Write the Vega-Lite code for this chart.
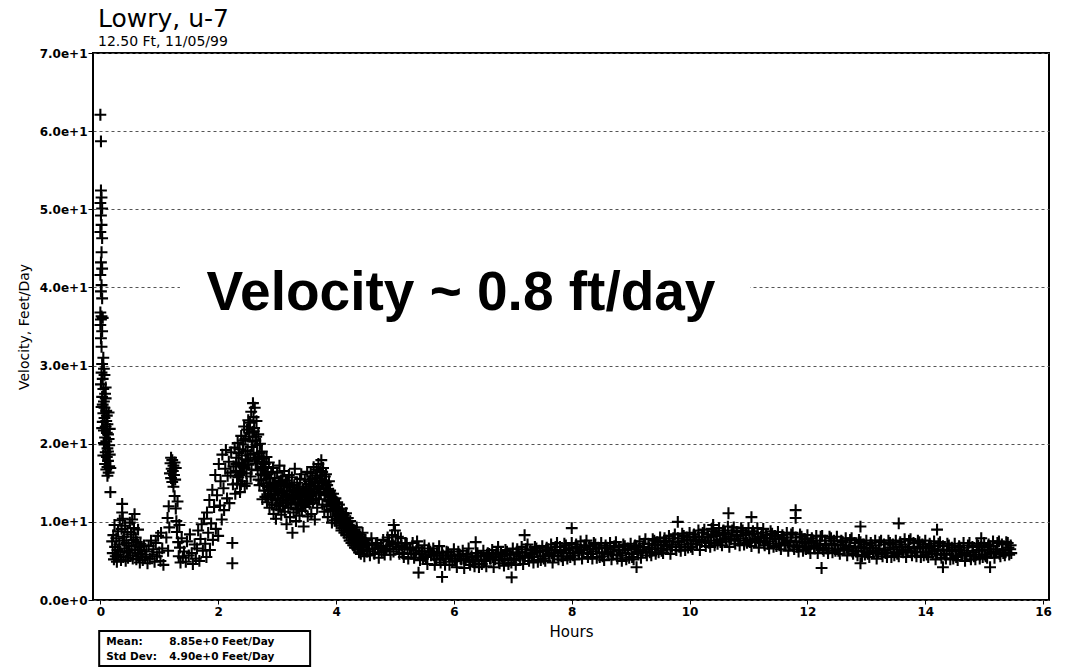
{
"$schema": "https://vega.github.io/schema/vega-lite/v6.json",
"width": 956, "height": 547,
"autosize": "none",
"padding": {"left": 93, "top": 53, "right": 18, "bottom": 67},
"background": "white",
"config": {
  "view": {"stroke": "black", "strokeWidth": 2},
  "axis": {"labelColor": "black", "tickColor": "black", "titleColor": "black", "domain": false}
},
"title": {"text": "Lowry, u-7", "subtitle": "12.50 Ft, 11/05/99", "anchor": "start", "frame": "group", "font": "DejaVu Sans", "fontSize": 25, "fontWeight": "normal", "color": "black", "subtitleFont": "DejaVu Sans", "subtitleFontSize": 14, "subtitleColor": "black", "subtitlePadding": 3, "offset": -2, "dx": 5},
"layer": [
  {
    "data": {"values": [{"note": "mask"}]},
    "mark": {"type": "rect", "fill": "white"},
    "encoding": {
      "x": {"datum": 1.35, "type": "quantitative"}, "x2": {"datum": 11.03},
      "y": {"datum": 38.6, "type": "quantitative"}, "y2": {"datum": 41.4}
    }
  },
  {
    "data": {"values": [
{"hours":0.00,"velocity":62.1},{"hours":0.01,"velocity":58.7},{"hours":0.01,"velocity":52.4},{"hours":0.02,"velocity":51.5},{"hours":0.00,"velocity":50.8},{"hours":0.03,"velocity":50.1},{"hours":0.01,"velocity":49.2},{"hours":0.02,"velocity":48.0},{"hours":0.00,"velocity":47.1},{"hours":0.03,"velocity":46.3},{"hours":0.02,"velocity":44.5},{"hours":0.01,"velocity":43.2},{"hours":0.03,"velocity":42.4},{"hours":0.00,"velocity":41.6},{"hours":0.02,"velocity":40.3},{"hours":0.01,"velocity":39.5},{"hours":0.03,"velocity":38.6},{"hours":0.00,"velocity":36.8},{"hours":0.02,"velocity":36.3},{"hours":0.01,"velocity":35.9},{"hours":0.04,"velocity":36.1},{"hours":0.00,"velocity":35.2},{"hours":0.03,"velocity":34.4},{"hours":0.01,"velocity":33.5},{"hours":0.02,"velocity":32.4},{"hours":0.05,"velocity":31.0},{"hours":0.03,"velocity":30.2},{"hours":0.06,"velocity":29.6},{"hours":0.02,"velocity":29.1},{"hours":0.04,"velocity":28.3},{"hours":0.07,"velocity":28.8},{"hours":0.01,"velocity":27.6},{"hours":0.05,"velocity":27.0},{"hours":0.08,"velocity":26.4},{"hours":0.03,"velocity":26.0},{"hours":0.06,"velocity":25.4},{"hours":0.09,"velocity":25.8},{"hours":0.02,"velocity":24.7},{"hours":0.10,"velocity":24.2},{"hours":0.05,"velocity":23.9},{"hours":0.07,"velocity":23.3},{"hours":0.11,"velocity":23.6},{"hours":0.04,"velocity":22.8},{"hours":0.09,"velocity":22.2},{"hours":0.12,"velocity":22.5},{"hours":0.06,"velocity":21.7},{"hours":0.13,"velocity":21.2},{"hours":0.08,"velocity":20.8},{"hours":0.10,"velocity":20.3},{"hours":0.14,"velocity":20.6},{"hours":0.07,"velocity":19.9},{"hours":0.12,"velocity":19.4},{"hours":0.15,"velocity":19.8},{"hours":0.09,"velocity":18.9},{"hours":0.11,"velocity":18.3},{"hours":0.16,"velocity":18.6},{"hours":0.13,"velocity":17.8},{"hours":0.08,"velocity":17.4},{"hours":0.15,"velocity":17.1},{"hours":0.10,"velocity":16.7},{"hours":0.14,"velocity":16.3},{"hours":0.12,"velocity":15.9},{"hours":0.17,"velocity":16.9},{"hours":0.06,"velocity":20.1},{"hours":0.03,"velocity":22.0},{"hours":0.05,"velocity":18.5},{"hours":0.11,"velocity":21.4},{"hours":0.14,"velocity":24.0},{"hours":0.09,"velocity":27.2},{"hours":0.13,"velocity":19.0},{"hours":0.17,"velocity":13.8},{"hours":0.16,"velocity":21.9},{"hours":0.04,"velocity":25.0},{"hours":0.07,"velocity":24.6},{"hours":0.10,"velocity":22.9},{"hours":0.12,"velocity":17.0},
{"hours":0.20,"velocity":7.5},{"hours":0.21,"velocity":6.0},{"hours":0.22,"velocity":8.3},{"hours":0.23,"velocity":5.2},{"hours":0.24,"velocity":9.6},{"hours":0.25,"velocity":6.8},{"hours":0.26,"velocity":5.6},{"hours":0.27,"velocity":7.9},{"hours":0.28,"velocity":4.9},{"hours":0.29,"velocity":6.4},{"hours":0.30,"velocity":8.8},{"hours":0.31,"velocity":5.8},{"hours":0.32,"velocity":7.1},{"hours":0.33,"velocity":10.2},{"hours":0.34,"velocity":6.2},{"hours":0.35,"velocity":5.1},{"hours":0.36,"velocity":9.1},{"hours":0.37,"velocity":12.3},{"hours":0.37,"velocity":11.2},{"hours":0.38,"velocity":7.6},{"hours":0.38,"velocity":10.4},{"hours":0.39,"velocity":5.5},{"hours":0.40,"velocity":8.1},{"hours":0.41,"velocity":6.6},{"hours":0.42,"velocity":9.5},{"hours":0.43,"velocity":5.0},{"hours":0.44,"velocity":7.3},{"hours":0.45,"velocity":6.1},{"hours":0.46,"velocity":8.7},{"hours":0.47,"velocity":5.4},{"hours":0.48,"velocity":7.0},{"hours":0.49,"velocity":6.3},{"hours":0.50,"velocity":9.9},{"hours":0.51,"velocity":5.7},{"hours":0.52,"velocity":8.4},{"hours":0.53,"velocity":6.9},{"hours":0.54,"velocity":10.3},{"hours":0.55,"velocity":5.3},{"hours":0.56,"velocity":7.7},{"hours":0.57,"velocity":9.2},{"hours":0.58,"velocity":11.0},{"hours":0.59,"velocity":6.5},{"hours":0.60,"velocity":8.0},{"hours":0.61,"velocity":5.2},{"hours":0.62,"velocity":7.4},{"hours":0.63,"velocity":6.0},{"hours":0.64,"velocity":9.0},{"hours":0.65,"velocity":5.6},{"hours":0.66,"velocity":6.8},{"hours":0.67,"velocity":4.8},{"hours":0.68,"velocity":7.2},{"hours":0.69,"velocity":5.9},{"hours":0.70,"velocity":6.4},{"hours":0.72,"velocity":5.1},{"hours":0.74,"velocity":7.0},{"hours":0.76,"velocity":5.5},{"hours":0.78,"velocity":6.2},{"hours":0.80,"velocity":4.7},{"hours":0.82,"velocity":6.9},{"hours":0.84,"velocity":5.3},{"hours":0.86,"velocity":7.6},{"hours":0.88,"velocity":5.8},{"hours":0.90,"velocity":6.5},{"hours":0.92,"velocity":4.9},{"hours":0.94,"velocity":7.3},{"hours":0.96,"velocity":5.6},{"hours":0.98,"velocity":8.2},{"hours":1.00,"velocity":6.1},{"hours":1.02,"velocity":5.0},{"hours":1.03,"velocity":8.6},{"hours":1.05,"velocity":6.6},{"hours":1.07,"velocity":4.5},
{"hours":1.12,"velocity":8.0},{"hours":1.14,"velocity":10.5},{"hours":1.15,"velocity":6.3},{"hours":1.16,"velocity":12.0},{"hours":1.17,"velocity":9.3},{"hours":1.18,"velocity":16.2},{"hours":1.19,"velocity":17.5},{"hours":1.20,"velocity":15.6},{"hours":1.20,"velocity":18.2},{"hours":1.21,"velocity":16.8},{"hours":1.22,"velocity":17.9},{"hours":1.22,"velocity":15.1},{"hours":1.23,"velocity":16.5},{"hours":1.24,"velocity":17.2},{"hours":1.24,"velocity":14.5},{"hours":1.25,"velocity":16.0},{"hours":1.26,"velocity":17.6},{"hours":1.26,"velocity":13.3},{"hours":1.27,"velocity":15.4},{"hours":1.28,"velocity":16.9},{"hours":1.28,"velocity":11.7},{"hours":1.29,"velocity":10.1},{"hours":1.30,"velocity":8.7},{"hours":1.31,"velocity":12.6},{"hours":1.32,"velocity":7.4},{"hours":1.33,"velocity":5.6},{"hours":1.34,"velocity":9.6},{"hours":1.35,"velocity":6.7},{"hours":1.36,"velocity":4.8},{"hours":1.38,"velocity":7.9},{"hours":1.40,"velocity":5.4},
{"hours":1.42,"velocity":6.2},{"hours":1.45,"velocity":4.9},{"hours":1.47,"velocity":7.5},{"hours":1.50,"velocity":5.7},{"hours":1.52,"velocity":8.4},{"hours":1.55,"velocity":6.0},{"hours":1.57,"velocity":4.6},{"hours":1.60,"velocity":7.1},{"hours":1.62,"velocity":5.3},{"hours":1.64,"velocity":6.6},{"hours":1.66,"velocity":8.9},{"hours":1.68,"velocity":5.0},{"hours":1.70,"velocity":7.8},{"hours":1.72,"velocity":9.7},{"hours":1.74,"velocity":6.3},
{"hours":1.76,"velocity":10.4},{"hours":1.78,"velocity":7.2},{"hours":1.80,"velocity":5.5},{"hours":1.81,"velocity":11.2},{"hours":1.83,"velocity":8.6},{"hours":1.85,"velocity":12.8},{"hours":1.86,"velocity":6.4},{"hours":1.88,"velocity":9.8},{"hours":1.90,"velocity":14.1},{"hours":1.91,"velocity":7.7},{"hours":1.93,"velocity":11.9},{"hours":1.95,"velocity":16.0},{"hours":1.96,"velocity":9.1},{"hours":1.98,"velocity":13.4},{"hours":2.00,"velocity":8.2},{"hours":2.01,"velocity":17.4},{"hours":2.03,"velocity":12.1},{"hours":2.04,"velocity":15.2},{"hours":2.06,"velocity":10.3},{"hours":2.07,"velocity":18.6},{"hours":2.09,"velocity":14.3},{"hours":2.10,"velocity":11.5},{"hours":2.12,"velocity":16.8},{"hours":2.13,"velocity":19.2},{"hours":2.15,"velocity":13.0},{"hours":2.16,"velocity":15.9},{"hours":2.18,"velocity":17.7},{"hours":2.19,"velocity":12.4},{"hours":2.21,"velocity":16.3},{"hours":2.22,"velocity":18.9},{"hours":2.24,"velocity":7.3},{"hours":2.24,"velocity":4.7},{"hours":2.25,"velocity":14.8},{"hours":2.26,"velocity":17.1},{"hours":2.28,"velocity":19.5},{"hours":2.29,"velocity":13.6},
{"hours":2.30,"velocity":16.5},{"hours":2.31,"velocity":18.2},{"hours":2.32,"velocity":14.9},{"hours":2.33,"velocity":20.1},{"hours":2.34,"velocity":15.7},{"hours":2.35,"velocity":17.6},{"hours":2.36,"velocity":19.3},{"hours":2.37,"velocity":13.8},{"hours":2.38,"velocity":16.4},{"hours":2.39,"velocity":21.0},{"hours":2.40,"velocity":18.5},{"hours":2.41,"velocity":15.2},{"hours":2.42,"velocity":19.9},{"hours":2.43,"velocity":17.1},{"hours":2.44,"velocity":22.2},{"hours":2.45,"velocity":14.6},{"hours":2.46,"velocity":20.6},{"hours":2.47,"velocity":18.0},{"hours":2.48,"velocity":16.2},{"hours":2.49,"velocity":21.8},{"hours":2.50,"velocity":19.1},{"hours":2.51,"velocity":23.0},{"hours":2.52,"velocity":17.3},{"hours":2.53,"velocity":20.9},{"hours":2.54,"velocity":22.7},{"hours":2.55,"velocity":15.8},{"hours":2.56,"velocity":24.1},{"hours":2.57,"velocity":19.6},{"hours":2.58,"velocity":21.5},{"hours":2.59,"velocity":25.2},{"hours":2.60,"velocity":23.4},{"hours":2.60,"velocity":18.7},{"hours":2.61,"velocity":22.0},{"hours":2.62,"velocity":24.6},{"hours":2.63,"velocity":20.4},{"hours":2.64,"velocity":17.5},{"hours":2.65,"velocity":22.9},{"hours":2.66,"velocity":19.8},{"hours":2.67,"velocity":16.6},{"hours":2.68,"velocity":21.2},{"hours":2.69,"velocity":18.4},{"hours":2.70,"velocity":14.7},{"hours":2.71,"velocity":20.0},{"hours":2.72,"velocity":17.0},{"hours":2.73,"velocity":15.3},{"hours":2.74,"velocity":19.0},{"hours":2.75,"velocity":12.9},{"hours":2.76,"velocity":16.8},{"hours":2.77,"velocity":18.1},{"hours":2.78,"velocity":14.0},{"hours":2.79,"velocity":17.4},{"hours":2.80,"velocity":13.2},{"hours":2.81,"velocity":15.9},{"hours":2.82,"velocity":18.3},{"hours":2.83,"velocity":12.5},{"hours":2.84,"velocity":16.1},{"hours":2.85,"velocity":14.4},{"hours":2.86,"velocity":17.6},{"hours":2.87,"velocity":11.8},{"hours":2.88,"velocity":15.0},{"hours":2.89,"velocity":13.6},{"hours":2.90,"velocity":16.4},
{"hours":2.91,"velocity":12.2},{"hours":2.92,"velocity":14.8},{"hours":2.93,"velocity":16.9},{"hours":2.94,"velocity":11.0},{"hours":2.95,"velocity":13.5},{"hours":2.96,"velocity":15.6},{"hours":2.97,"velocity":12.8},{"hours":2.98,"velocity":10.4},{"hours":2.99,"velocity":14.2},{"hours":3.00,"velocity":16.3},{"hours":3.01,"velocity":13.0},{"hours":3.02,"velocity":11.6},{"hours":3.03,"velocity":15.1},{"hours":3.04,"velocity":17.2},{"hours":3.05,"velocity":12.4},{"hours":3.06,"velocity":14.6},{"hours":3.07,"velocity":10.9},{"hours":3.08,"velocity":13.8},{"hours":3.09,"velocity":15.8},{"hours":3.10,"velocity":12.0},{"hours":3.11,"velocity":14.0},{"hours":3.12,"velocity":16.5},{"hours":3.13,"velocity":11.3},{"hours":3.14,"velocity":13.2},{"hours":3.15,"velocity":15.3},{"hours":3.16,"velocity":9.7},{"hours":3.17,"velocity":12.7},{"hours":3.18,"velocity":14.9},{"hours":3.19,"velocity":11.8},{"hours":3.20,"velocity":16.0},{"hours":3.21,"velocity":13.4},{"hours":3.22,"velocity":10.6},{"hours":3.23,"velocity":14.4},{"hours":3.24,"velocity":12.3},{"hours":3.25,"velocity":15.7},{"hours":3.26,"velocity":8.6},{"hours":3.27,"velocity":13.1},{"hours":3.28,"velocity":11.2},{"hours":3.29,"velocity":14.7},{"hours":3.30,"velocity":16.8},{"hours":3.31,"velocity":12.5},{"hours":3.32,"velocity":10.1},{"hours":3.33,"velocity":13.9},{"hours":3.34,"velocity":15.0},{"hours":3.35,"velocity":11.7},{"hours":3.36,"velocity":14.3},{"hours":3.37,"velocity":12.9},{"hours":3.38,"velocity":10.8},{"hours":3.39,"velocity":15.5},{"hours":3.40,"velocity":13.3},{"hours":3.41,"velocity":16.1},{"hours":3.42,"velocity":11.4},{"hours":3.43,"velocity":14.1},{"hours":3.44,"velocity":12.1},{"hours":3.45,"velocity":9.4},{"hours":3.46,"velocity":13.7},{"hours":3.47,"velocity":15.4},{"hours":3.48,"velocity":11.9},{"hours":3.49,"velocity":14.5},{"hours":3.50,"velocity":12.6},{"hours":3.51,"velocity":16.4},{"hours":3.52,"velocity":10.7},{"hours":3.53,"velocity":13.6},{"hours":3.54,"velocity":15.2},
{"hours":3.55,"velocity":12.3},{"hours":3.56,"velocity":14.8},{"hours":3.57,"velocity":16.2},{"hours":3.58,"velocity":11.0},{"hours":3.59,"velocity":13.4},{"hours":3.60,"velocity":15.5},{"hours":3.61,"velocity":12.7},{"hours":3.62,"velocity":17.0},{"hours":3.63,"velocity":14.1},{"hours":3.64,"velocity":10.3},{"hours":3.65,"velocity":15.9},{"hours":3.66,"velocity":13.0},{"hours":3.67,"velocity":16.7},{"hours":3.68,"velocity":11.8},{"hours":3.69,"velocity":14.6},{"hours":3.70,"velocity":17.4},{"hours":3.71,"velocity":12.9},{"hours":3.72,"velocity":15.3},{"hours":3.73,"velocity":16.5},{"hours":3.74,"velocity":13.6},{"hours":3.75,"velocity":17.9},{"hours":3.76,"velocity":15.0},{"hours":3.77,"velocity":12.2},{"hours":3.78,"velocity":16.9},{"hours":3.79,"velocity":14.3},{"hours":3.80,"velocity":11.3},{"hours":3.81,"velocity":15.8},{"hours":3.82,"velocity":13.5},{"hours":3.83,"velocity":16.1},{"hours":3.84,"velocity":12.0},{"hours":3.85,"velocity":14.7},{"hours":3.86,"velocity":10.6},{"hours":3.87,"velocity":13.9},{"hours":3.88,"velocity":15.2},{"hours":3.89,"velocity":12.6},{"hours":3.90,"velocity":14.0},{"hours":3.91,"velocity":11.5},{"hours":3.92,"velocity":13.2},{"hours":3.93,"velocity":9.9},{"hours":3.94,"velocity":12.8},
{"hours":3.95,"velocity":13.6},{"hours":3.96,"velocity":11.4},{"hours":3.97,"velocity":12.4},{"hours":3.98,"velocity":10.2},{"hours":3.99,"velocity":13.0},{"hours":4.00,"velocity":11.8},{"hours":4.01,"velocity":9.8},{"hours":4.02,"velocity":12.5},{"hours":4.03,"velocity":11.0},{"hours":4.04,"velocity":10.4},{"hours":4.05,"velocity":12.2},{"hours":4.06,"velocity":9.5},{"hours":4.07,"velocity":11.3},{"hours":4.08,"velocity":10.6},{"hours":4.09,"velocity":8.9},{"hours":4.10,"velocity":11.7},{"hours":4.11,"velocity":10.0},{"hours":4.12,"velocity":9.2},{"hours":4.13,"velocity":10.9},{"hours":4.14,"velocity":8.6},{"hours":4.15,"velocity":10.3},{"hours":4.16,"velocity":9.6},{"hours":4.17,"velocity":11.1},{"hours":4.18,"velocity":8.3},{"hours":4.19,"velocity":9.9},{"hours":4.20,"velocity":10.5},{"hours":4.21,"velocity":8.0},{"hours":4.22,"velocity":9.4},{"hours":4.23,"velocity":7.6},{"hours":4.24,"velocity":10.1},{"hours":4.25,"velocity":8.8},{"hours":4.26,"velocity":7.3},{"hours":4.27,"velocity":9.5},{"hours":4.28,"velocity":8.2},{"hours":4.29,"velocity":7.0},{"hours":4.30,"velocity":9.0},{"hours":4.31,"velocity":7.8},{"hours":4.32,"velocity":6.7},{"hours":4.33,"velocity":8.7},{"hours":4.34,"velocity":7.5},{"hours":4.35,"velocity":9.3},{"hours":4.36,"velocity":6.5},{"hours":4.37,"velocity":8.1},{"hours":4.38,"velocity":7.2},{"hours":4.39,"velocity":6.1},{"hours":4.40,"velocity":8.4},{"hours":4.41,"velocity":7.0},{"hours":4.42,"velocity":5.9},{"hours":4.43,"velocity":7.9},{"hours":4.44,"velocity":6.8},{"hours":4.45,"velocity":8.6},{"hours":4.46,"velocity":6.3},{"hours":4.47,"velocity":7.4},{"hours":4.48,"velocity":5.6},{"hours":4.49,"velocity":7.7},
{"hours":2.305,"velocity":17.4},{"hours":2.325,"velocity":15.9},{"hours":2.345,"velocity":18.8},{"hours":2.365,"velocity":16.0},{"hours":2.385,"velocity":14.8},{"hours":2.405,"velocity":17.2},{"hours":2.425,"velocity":20.4},{"hours":2.445,"velocity":16.9},{"hours":2.465,"velocity":19.0},{"hours":2.485,"velocity":14.9},{"hours":2.505,"velocity":17.8},{"hours":2.525,"velocity":21.4},{"hours":2.545,"velocity":18.6},{"hours":2.565,"velocity":16.7},{"hours":2.585,"velocity":20.3},{"hours":2.605,"velocity":21.6},{"hours":2.625,"velocity":18.2},{"hours":2.645,"velocity":20.9},{"hours":2.665,"velocity":18.0},{"hours":2.685,"velocity":15.4},{"hours":2.705,"velocity":18.8},{"hours":2.725,"velocity":16.1},{"hours":2.745,"velocity":17.7},{"hours":2.765,"velocity":14.9},{"hours":2.785,"velocity":16.0},{"hours":2.805,"velocity":17.0},{"hours":2.825,"velocity":14.6},{"hours":2.845,"velocity":13.1},{"hours":2.865,"velocity":15.6},{"hours":2.885,"velocity":14.1},{"hours":2.905,"velocity":13.4},{"hours":2.925,"velocity":12.9},{"hours":2.945,"velocity":14.9},{"hours":2.965,"velocity":13.9},{"hours":2.985,"velocity":12.1},{"hours":3.005,"velocity":14.6},{"hours":3.025,"velocity":13.4},{"hours":3.045,"velocity":12.0},{"hours":3.065,"velocity":15.3},{"hours":3.085,"velocity":12.7},{"hours":3.105,"velocity":13.6},{"hours":3.125,"velocity":14.8},{"hours":3.145,"velocity":12.4},{"hours":3.165,"velocity":13.9},{"hours":3.185,"velocity":12.9},{"hours":3.205,"velocity":14.5},{"hours":3.225,"velocity":12.2},{"hours":3.245,"velocity":13.5},{"hours":3.265,"velocity":14.0},{"hours":3.285,"velocity":12.9},{"hours":3.305,"velocity":13.8},{"hours":3.325,"velocity":11.6},{"hours":3.345,"velocity":13.0},{"hours":3.365,"velocity":12.4},{"hours":3.385,"velocity":14.1},{"hours":3.405,"velocity":12.1},{"hours":3.425,"velocity":13.4},{"hours":3.445,"velocity":14.2},{"hours":3.465,"velocity":12.3},{"hours":3.485,"velocity":13.2},{"hours":3.505,"velocity":14.0},{"hours":3.525,"velocity":12.6},{"hours":3.545,"velocity":13.9},{"hours":3.565,"velocity":13.3},{"hours":3.585,"velocity":14.9},{"hours":3.605,"velocity":12.5},{"hours":3.625,"velocity":14.3},{"hours":3.645,"velocity":15.1},{"hours":3.665,"velocity":13.7},{"hours":3.685,"velocity":15.6},{"hours":3.705,"velocity":14.5},{"hours":3.725,"velocity":13.8},{"hours":3.745,"velocity":15.9},{"hours":3.765,"velocity":16.4},{"hours":3.785,"velocity":14.9},{"hours":3.805,"velocity":13.4},{"hours":3.825,"velocity":15.0},{"hours":3.845,"velocity":14.2},{"hours":3.865,"velocity":12.7},{"hours":3.885,"velocity":13.8},{"hours":3.905,"velocity":12.9},{"hours":3.925,"velocity":12.1},{"hours":3.945,"velocity":11.7},{"hours":3.965,"velocity":12.9},{"hours":3.985,"velocity":11.6},{"hours":4.005,"velocity":12.3},{"hours":4.025,"velocity":10.8},{"hours":4.045,"velocity":11.5},{"hours":4.065,"velocity":10.2},{"hours":4.085,"velocity":11.0},{"hours":4.105,"velocity":9.9},{"hours":4.125,"velocity":10.4},{"hours":4.145,"velocity":9.4},{"hours":4.165,"velocity":10.0},{"hours":4.185,"velocity":9.2},{"hours":4.205,"velocity":9.5},{"hours":4.225,"velocity":8.7},{"hours":4.245,"velocity":9.2},{"hours":4.265,"velocity":8.4},{"hours":4.285,"velocity":8.9},{"hours":4.305,"velocity":8.1},{"hours":4.325,"velocity":8.4},{"hours":4.345,"velocity":7.9},{"hours":4.365,"velocity":8.2},{"hours":4.385,"velocity":7.6},{"hours":4.405,"velocity":7.8},{"hours":4.425,"velocity":7.3},{"hours":4.445,"velocity":7.5},{"hours":4.465,"velocity":7.0},{"hours":4.485,"velocity":7.3},
{"hours":4.5,"velocity":7.7},{"hours":4.525,"velocity":6.2},{"hours":4.55,"velocity":7.1},{"hours":4.575,"velocity":5.7},{"hours":4.6,"velocity":7.9},{"hours":4.625,"velocity":6.5},{"hours":4.65,"velocity":5.9},{"hours":4.675,"velocity":7.2},{"hours":4.7,"velocity":7.3},{"hours":4.725,"velocity":5.4},{"hours":4.75,"velocity":6.7},{"hours":4.775,"velocity":6.1},{"hours":4.8,"velocity":7.7},{"hours":4.825,"velocity":5.8},{"hours":4.85,"velocity":6.5},{"hours":4.875,"velocity":8.0},{"hours":4.9,"velocity":7.5},{"hours":4.925,"velocity":5.8},{"hours":4.95,"velocity":8.3},{"hours":4.975,"velocity":6.2},
{"hours":5.0,"velocity":8.9},{"hours":5.025,"velocity":6.5},{"hours":5.05,"velocity":8.1},{"hours":5.075,"velocity":5.9},{"hours":5.1,"velocity":7.9},{"hours":5.125,"velocity":6.0},{"hours":5.15,"velocity":5.5},{"hours":5.175,"velocity":7.3},{"hours":5.2,"velocity":7.2},{"hours":5.225,"velocity":5.3},{"hours":5.25,"velocity":6.5},{"hours":5.275,"velocity":5.9},{"hours":5.3,"velocity":7.3},{"hours":5.325,"velocity":5.4},{"hours":5.35,"velocity":5.9},{"hours":5.375,"velocity":7.5},{"hours":5.4,"velocity":6.7},{"hours":5.425,"velocity":5.1},{"hours":5.45,"velocity":6.2},{"hours":5.475,"velocity":5.3},
{"hours":5.5,"velocity":7.0},{"hours":5.525,"velocity":5.5},{"hours":5.55,"velocity":4.6},{"hours":5.575,"velocity":6.6},{"hours":5.6,"velocity":6.2},{"hours":5.625,"velocity":5.8},{"hours":5.65,"velocity":6.6},{"hours":5.675,"velocity":4.5},{"hours":5.7,"velocity":5.2},{"hours":5.725,"velocity":6.0},{"hours":5.75,"velocity":6.9},{"hours":5.775,"velocity":4.8},{"hours":5.8,"velocity":6.1},{"hours":5.825,"velocity":5.3},{"hours":5.85,"velocity":4.5},{"hours":5.875,"velocity":6.2},{"hours":5.9,"velocity":6.1},{"hours":5.925,"velocity":4.5},{"hours":5.95,"velocity":5.6},{"hours":5.975,"velocity":4.9},
{"hours":6.0,"velocity":6.5},{"hours":6.025,"velocity":5.0},{"hours":6.05,"velocity":4.2},{"hours":6.075,"velocity":6.2},{"hours":6.1,"velocity":5.8},{"hours":6.125,"velocity":5.2},{"hours":6.15,"velocity":6.3},{"hours":6.175,"velocity":4.1},{"hours":6.2,"velocity":5.1},{"hours":6.225,"velocity":5.9},{"hours":6.25,"velocity":6.6},{"hours":6.275,"velocity":4.5},{"hours":6.3,"velocity":5.6},{"hours":6.325,"velocity":4.9},{"hours":6.35,"velocity":4.3},{"hours":6.375,"velocity":6.0},{"hours":6.4,"velocity":6.0},{"hours":6.425,"velocity":4.2},{"hours":6.45,"velocity":5.6},{"hours":6.475,"velocity":4.6},
{"hours":6.5,"velocity":6.3},{"hours":6.525,"velocity":5.0},{"hours":6.55,"velocity":4.3},{"hours":6.575,"velocity":6.0},{"hours":6.6,"velocity":5.9},{"hours":6.625,"velocity":5.3},{"hours":6.65,"velocity":6.4},{"hours":6.675,"velocity":4.2},{"hours":6.7,"velocity":5.2},{"hours":6.725,"velocity":6.1},{"hours":6.75,"velocity":6.8},{"hours":6.775,"velocity":4.7},{"hours":6.8,"velocity":6.0},{"hours":6.825,"velocity":5.1},{"hours":6.85,"velocity":4.4},{"hours":6.875,"velocity":6.4},{"hours":6.9,"velocity":6.2},{"hours":6.925,"velocity":4.6},{"hours":6.95,"velocity":5.8},{"hours":6.975,"velocity":4.8},
{"hours":7.0,"velocity":6.6},{"hours":7.025,"velocity":5.1},{"hours":7.05,"velocity":4.5},{"hours":7.075,"velocity":6.5},{"hours":7.1,"velocity":6.1},{"hours":7.125,"velocity":5.3},{"hours":7.15,"velocity":6.8},{"hours":7.175,"velocity":4.6},{"hours":7.2,"velocity":5.5},{"hours":7.225,"velocity":6.5},{"hours":7.25,"velocity":7.1},{"hours":7.275,"velocity":5.0},{"hours":7.3,"velocity":6.4},{"hours":7.325,"velocity":5.5},{"hours":7.35,"velocity":4.8},{"hours":7.375,"velocity":6.8},{"hours":7.4,"velocity":6.6},{"hours":7.425,"velocity":4.9},{"hours":7.45,"velocity":6.3},{"hours":7.475,"velocity":5.1},
{"hours":7.5,"velocity":6.9},{"hours":7.525,"velocity":5.3},{"hours":7.55,"velocity":5.0},{"hours":7.575,"velocity":6.7},{"hours":7.6,"velocity":6.5},{"hours":7.625,"velocity":5.7},{"hours":7.65,"velocity":7.1},{"hours":7.675,"velocity":4.8},{"hours":7.7,"velocity":5.6},{"hours":7.725,"velocity":6.8},{"hours":7.75,"velocity":7.3},{"hours":7.775,"velocity":5.2},{"hours":7.8,"velocity":6.8},{"hours":7.825,"velocity":5.6},{"hours":7.85,"velocity":5.1},{"hours":7.875,"velocity":7.2},{"hours":7.9,"velocity":7.0},{"hours":7.925,"velocity":5.3},{"hours":7.95,"velocity":6.6},{"hours":7.975,"velocity":5.5},
{"hours":8.0,"velocity":7.3},{"hours":8.025,"velocity":5.7},{"hours":8.05,"velocity":5.2},{"hours":8.075,"velocity":7.1},{"hours":8.1,"velocity":6.8},{"hours":8.125,"velocity":6.0},{"hours":8.15,"velocity":7.5},{"hours":8.175,"velocity":5.3},{"hours":8.2,"velocity":6.0},{"hours":8.225,"velocity":7.0},{"hours":8.25,"velocity":7.6},{"hours":8.275,"velocity":5.5},{"hours":8.3,"velocity":6.9},{"hours":8.325,"velocity":5.9},{"hours":8.35,"velocity":5.3},{"hours":8.375,"velocity":7.3},{"hours":8.4,"velocity":7.1},{"hours":8.425,"velocity":5.4},{"hours":8.45,"velocity":6.7},{"hours":8.475,"velocity":5.5},
{"hours":8.5,"velocity":7.3},{"hours":8.525,"velocity":5.6},{"hours":8.55,"velocity":5.1},{"hours":8.575,"velocity":7.0},{"hours":8.6,"velocity":6.7},{"hours":8.625,"velocity":5.9},{"hours":8.65,"velocity":7.3},{"hours":8.675,"velocity":5.2},{"hours":8.7,"velocity":5.8},{"hours":8.725,"velocity":6.9},{"hours":8.75,"velocity":7.4},{"hours":8.775,"velocity":5.3},{"hours":8.8,"velocity":6.8},{"hours":8.825,"velocity":5.7},{"hours":8.85,"velocity":5.0},{"hours":8.875,"velocity":7.1},{"hours":8.9,"velocity":6.9},{"hours":8.925,"velocity":5.2},{"hours":8.95,"velocity":6.6},{"hours":8.975,"velocity":5.4},
{"hours":9.0,"velocity":7.2},{"hours":9.025,"velocity":5.5},{"hours":9.05,"velocity":5.2},{"hours":9.075,"velocity":7.0},{"hours":9.1,"velocity":6.9},{"hours":9.125,"velocity":6.0},{"hours":9.15,"velocity":7.5},{"hours":9.175,"velocity":5.4},{"hours":9.2,"velocity":6.1},{"hours":9.225,"velocity":7.2},{"hours":9.25,"velocity":7.8},{"hours":9.275,"velocity":5.7},{"hours":9.3,"velocity":7.2},{"hours":9.325,"velocity":6.1},{"hours":9.35,"velocity":5.7},{"hours":9.375,"velocity":7.8},{"hours":9.4,"velocity":7.6},{"hours":9.425,"velocity":5.9},{"hours":9.45,"velocity":7.4},{"hours":9.475,"velocity":6.1},
{"hours":9.5,"velocity":8.0},{"hours":9.525,"velocity":6.3},{"hours":9.55,"velocity":6.0},{"hours":9.575,"velocity":7.9},{"hours":9.6,"velocity":7.6},{"hours":9.625,"velocity":6.5},{"hours":9.65,"velocity":8.2},{"hours":9.675,"velocity":5.9},{"hours":9.7,"velocity":6.8},{"hours":9.725,"velocity":7.9},{"hours":9.75,"velocity":8.4},{"hours":9.775,"velocity":6.4},{"hours":9.8,"velocity":7.9},{"hours":9.825,"velocity":6.8},{"hours":9.85,"velocity":6.3},{"hours":9.875,"velocity":8.5},{"hours":9.9,"velocity":8.2},{"hours":9.925,"velocity":6.4},{"hours":9.95,"velocity":8.0},{"hours":9.975,"velocity":6.7},
{"hours":10.0,"velocity":8.6},{"hours":10.025,"velocity":6.8},{"hours":10.05,"velocity":6.5},{"hours":10.075,"velocity":8.4},{"hours":10.1,"velocity":8.1},{"hours":10.125,"velocity":7.1},{"hours":10.15,"velocity":8.9},{"hours":10.175,"velocity":6.4},{"hours":10.2,"velocity":7.4},{"hours":10.225,"velocity":8.6},{"hours":10.25,"velocity":9.0},{"hours":10.275,"velocity":6.9},{"hours":10.3,"velocity":8.4},{"hours":10.325,"velocity":7.3},{"hours":10.35,"velocity":6.8},{"hours":10.375,"velocity":9.1},{"hours":10.4,"velocity":8.8},{"hours":10.425,"velocity":7.0},{"hours":10.45,"velocity":8.6},{"hours":10.475,"velocity":7.2},
{"hours":10.5,"velocity":9.2},{"hours":10.525,"velocity":7.4},{"hours":10.55,"velocity":7.0},{"hours":10.575,"velocity":8.9},{"hours":10.6,"velocity":8.6},{"hours":10.625,"velocity":7.5},{"hours":10.65,"velocity":9.4},{"hours":10.675,"velocity":6.8},{"hours":10.7,"velocity":7.8},{"hours":10.725,"velocity":8.9},{"hours":10.75,"velocity":9.3},{"hours":10.775,"velocity":7.2},{"hours":10.8,"velocity":8.7},{"hours":10.825,"velocity":7.6},{"hours":10.85,"velocity":7.0},{"hours":10.875,"velocity":9.2},{"hours":10.9,"velocity":8.9},{"hours":10.925,"velocity":7.1},{"hours":10.95,"velocity":8.6},{"hours":10.975,"velocity":7.3},
{"hours":11.0,"velocity":9.2},{"hours":11.025,"velocity":7.4},{"hours":11.05,"velocity":6.9},{"hours":11.075,"velocity":8.8},{"hours":11.1,"velocity":8.5},{"hours":11.125,"velocity":7.4},{"hours":11.15,"velocity":9.2},{"hours":11.175,"velocity":6.7},{"hours":11.2,"velocity":7.6},{"hours":11.225,"velocity":8.6},{"hours":11.25,"velocity":9.1},{"hours":11.275,"velocity":7.0},{"hours":11.3,"velocity":8.3},{"hours":11.325,"velocity":7.2},{"hours":11.35,"velocity":6.6},{"hours":11.375,"velocity":8.8},{"hours":11.4,"velocity":8.5},{"hours":11.425,"velocity":6.8},{"hours":11.45,"velocity":8.2},{"hours":11.475,"velocity":6.9},
{"hours":11.5,"velocity":8.7},{"hours":11.525,"velocity":7.0},{"hours":11.55,"velocity":6.5},{"hours":11.575,"velocity":8.3},{"hours":11.6,"velocity":8.0},{"hours":11.625,"velocity":7.0},{"hours":11.65,"velocity":8.6},{"hours":11.675,"velocity":6.3},{"hours":11.7,"velocity":7.0},{"hours":11.725,"velocity":8.4},{"hours":11.75,"velocity":8.6},{"hours":11.775,"velocity":6.5},{"hours":11.8,"velocity":8.0},{"hours":11.825,"velocity":6.8},{"hours":11.85,"velocity":6.2},{"hours":11.875,"velocity":8.4},{"hours":11.9,"velocity":8.1},{"hours":11.925,"velocity":6.3},{"hours":11.95,"velocity":7.8},{"hours":11.975,"velocity":6.5},
{"hours":12.0,"velocity":8.3},{"hours":12.025,"velocity":6.6},{"hours":12.05,"velocity":6.0},{"hours":12.075,"velocity":7.9},{"hours":12.1,"velocity":7.6},{"hours":12.125,"velocity":6.6},{"hours":12.15,"velocity":8.2},{"hours":12.175,"velocity":6.0},{"hours":12.2,"velocity":6.7},{"hours":12.225,"velocity":8.1},{"hours":12.25,"velocity":8.2},{"hours":12.275,"velocity":6.3},{"hours":12.3,"velocity":7.6},{"hours":12.325,"velocity":6.6},{"hours":12.35,"velocity":6.0},{"hours":12.375,"velocity":8.1},{"hours":12.4,"velocity":7.9},{"hours":12.425,"velocity":6.1},{"hours":12.45,"velocity":7.6},{"hours":12.475,"velocity":6.3},
{"hours":12.5,"velocity":8.1},{"hours":12.525,"velocity":6.3},{"hours":12.55,"velocity":5.9},{"hours":12.575,"velocity":7.6},{"hours":12.6,"velocity":7.4},{"hours":12.625,"velocity":6.4},{"hours":12.65,"velocity":7.9},{"hours":12.675,"velocity":5.7},{"hours":12.7,"velocity":6.4},{"hours":12.725,"velocity":7.7},{"hours":12.75,"velocity":7.9},{"hours":12.775,"velocity":5.9},{"hours":12.8,"velocity":7.3},{"hours":12.825,"velocity":6.2},{"hours":12.85,"velocity":5.7},{"hours":12.875,"velocity":7.7},{"hours":12.9,"velocity":7.4},{"hours":12.925,"velocity":5.6},{"hours":12.95,"velocity":7.1},{"hours":12.975,"velocity":5.8},
{"hours":13.0,"velocity":7.6},{"hours":13.025,"velocity":5.9},{"hours":13.05,"velocity":5.5},{"hours":13.075,"velocity":7.3},{"hours":13.1,"velocity":7.0},{"hours":13.125,"velocity":6.0},{"hours":13.15,"velocity":7.6},{"hours":13.175,"velocity":5.3},{"hours":13.2,"velocity":6.1},{"hours":13.225,"velocity":7.4},{"hours":13.25,"velocity":7.6},{"hours":13.275,"velocity":5.6},{"hours":13.3,"velocity":7.1},{"hours":13.325,"velocity":6.0},{"hours":13.35,"velocity":5.5},{"hours":13.375,"velocity":7.6},{"hours":13.4,"velocity":7.3},{"hours":13.425,"velocity":5.5},{"hours":13.45,"velocity":7.1},{"hours":13.475,"velocity":5.7},
{"hours":13.5,"velocity":7.6},{"hours":13.525,"velocity":5.9},{"hours":13.55,"velocity":5.6},{"hours":13.575,"velocity":7.4},{"hours":13.6,"velocity":7.1},{"hours":13.625,"velocity":6.1},{"hours":13.65,"velocity":7.8},{"hours":13.675,"velocity":5.5},{"hours":13.7,"velocity":6.3},{"hours":13.725,"velocity":7.6},{"hours":13.75,"velocity":7.8},{"hours":13.775,"velocity":5.7},{"hours":13.8,"velocity":7.3},{"hours":13.825,"velocity":6.1},{"hours":13.85,"velocity":5.6},{"hours":13.875,"velocity":7.6},{"hours":13.9,"velocity":7.4},{"hours":13.925,"velocity":5.5},{"hours":13.95,"velocity":7.1},{"hours":13.975,"velocity":5.7},
{"hours":14.0,"velocity":7.6},{"hours":14.025,"velocity":5.8},{"hours":14.05,"velocity":5.5},{"hours":14.075,"velocity":7.2},{"hours":14.1,"velocity":6.9},{"hours":14.125,"velocity":5.9},{"hours":14.15,"velocity":7.5},{"hours":14.175,"velocity":5.2},{"hours":14.2,"velocity":5.9},{"hours":14.225,"velocity":7.2},{"hours":14.25,"velocity":7.4},{"hours":14.275,"velocity":5.4},{"hours":14.3,"velocity":6.9},{"hours":14.325,"velocity":5.8},{"hours":14.35,"velocity":5.3},{"hours":14.375,"velocity":7.2},{"hours":14.4,"velocity":7.0},{"hours":14.425,"velocity":5.2},{"hours":14.45,"velocity":6.7},{"hours":14.475,"velocity":5.3},
{"hours":14.5,"velocity":7.2},{"hours":14.525,"velocity":5.5},{"hours":14.55,"velocity":5.1},{"hours":14.575,"velocity":6.9},{"hours":14.6,"velocity":6.7},{"hours":14.625,"velocity":5.7},{"hours":14.65,"velocity":7.3},{"hours":14.675,"velocity":5.0},{"hours":14.7,"velocity":5.8},{"hours":14.725,"velocity":7.0},{"hours":14.75,"velocity":7.3},{"hours":14.775,"velocity":5.2},{"hours":14.8,"velocity":6.8},{"hours":14.825,"velocity":5.6},{"hours":14.85,"velocity":5.2},{"hours":14.875,"velocity":7.2},{"hours":14.9,"velocity":7.0},{"hours":14.925,"velocity":5.3},{"hours":14.95,"velocity":6.8},{"hours":14.975,"velocity":5.5},
{"hours":15.0,"velocity":7.3},{"hours":15.025,"velocity":5.6},{"hours":15.05,"velocity":5.4},{"hours":15.075,"velocity":7.1},{"hours":15.1,"velocity":6.9},{"hours":15.125,"velocity":6.0},{"hours":15.15,"velocity":7.5},{"hours":15.175,"velocity":5.4},{"hours":15.2,"velocity":6.1},{"hours":15.225,"velocity":7.3},{"hours":15.25,"velocity":7.5},{"hours":15.275,"velocity":5.6},{"hours":15.3,"velocity":7.1},{"hours":15.325,"velocity":6.0},{"hours":15.35,"velocity":5.7},{"hours":15.375,"velocity":7.4},{"hours":15.4,"velocity":7.3},{"hours":15.425,"velocity":5.8},{"hours":15.45,"velocity":7.0},{"hours":15.46,"velocity":6.0},
{"hours":4.5125,"velocity":7.0},{"hours":4.5625,"velocity":6.5},{"hours":4.6125,"velocity":7.1},{"hours":4.6625,"velocity":6.6},{"hours":4.7125,"velocity":6.6},{"hours":4.7625,"velocity":6.9},{"hours":4.8125,"velocity":6.3},{"hours":4.8625,"velocity":6.9},{"hours":4.9125,"velocity":6.6},{"hours":4.9625,"velocity":7.1},{"hours":5.0125,"velocity":7.3},{"hours":5.0625,"velocity":6.8},{"hours":5.1125,"velocity":7.0},{"hours":5.1625,"velocity":6.5},{"hours":5.2125,"velocity":6.5},{"hours":5.2625,"velocity":6.7},{"hours":5.3125,"velocity":5.9},{"hours":5.3625,"velocity":6.3},{"hours":5.4125,"velocity":5.9},{"hours":5.4625,"velocity":6.2},
{"hours":5.5125,"velocity":5.6},{"hours":5.5625,"velocity":6.2},{"hours":5.6125,"velocity":5.7},{"hours":5.6625,"velocity":5.7},{"hours":5.7125,"velocity":6.0},{"hours":5.7625,"velocity":5.2},{"hours":5.8125,"velocity":5.7},{"hours":5.8625,"velocity":5.3},{"hours":5.9125,"velocity":5.7},{"hours":5.9625,"velocity":5.7},{"hours":6.0125,"velocity":5.3},{"hours":6.0625,"velocity":5.8},{"hours":6.1125,"velocity":5.3},{"hours":6.1625,"velocity":5.3},{"hours":6.2125,"velocity":5.6},{"hours":6.2625,"velocity":4.9},{"hours":6.3125,"velocity":5.4},{"hours":6.3625,"velocity":5.1},{"hours":6.4125,"velocity":5.6},{"hours":6.4625,"velocity":5.6},
{"hours":6.5125,"velocity":5.1},{"hours":6.5625,"velocity":5.8},{"hours":6.6125,"velocity":5.3},{"hours":6.6625,"velocity":5.5},{"hours":6.7125,"velocity":5.8},{"hours":6.7625,"velocity":5.1},{"hours":6.8125,"velocity":5.6},{"hours":6.8625,"velocity":5.3},{"hours":6.9125,"velocity":5.8},{"hours":6.9625,"velocity":5.9},{"hours":7.0125,"velocity":5.3},{"hours":7.0625,"velocity":6.0},{"hours":7.1125,"velocity":5.6},{"hours":7.1625,"velocity":5.7},{"hours":7.2125,"velocity":6.1},{"hours":7.2625,"velocity":5.4},{"hours":7.3125,"velocity":5.9},{"hours":7.3625,"velocity":5.6},{"hours":7.4125,"velocity":6.1},{"hours":7.4625,"velocity":6.2},
{"hours":7.5125,"velocity":5.6},{"hours":7.5625,"velocity":6.3},{"hours":7.6125,"velocity":5.9},{"hours":7.6625,"velocity":6.0},{"hours":7.7125,"velocity":6.4},{"hours":7.7625,"velocity":5.7},{"hours":7.8125,"velocity":6.2},{"hours":7.8625,"velocity":6.0},{"hours":7.9125,"velocity":6.4},{"hours":7.9625,"velocity":6.6},{"hours":8.0125,"velocity":6.0},{"hours":8.0625,"velocity":6.7},{"hours":8.1125,"velocity":6.2},{"hours":8.1625,"velocity":6.4},{"hours":8.2125,"velocity":6.7},{"hours":8.2625,"velocity":6.0},{"hours":8.3125,"velocity":6.5},{"hours":8.3625,"velocity":6.2},{"hours":8.4125,"velocity":6.6},{"hours":8.4625,"velocity":6.6},
{"hours":8.5125,"velocity":6.0},{"hours":8.5625,"velocity":6.7},{"hours":8.6125,"velocity":6.1},{"hours":8.6625,"velocity":6.2},{"hours":8.7125,"velocity":6.5},{"hours":8.7625,"velocity":5.8},{"hours":8.8125,"velocity":6.3},{"hours":8.8625,"velocity":6.0},{"hours":8.9125,"velocity":6.4},{"hours":8.9625,"velocity":6.5},{"hours":9.0125,"velocity":5.9},{"hours":9.0625,"velocity":6.7},{"hours":9.1125,"velocity":6.2},{"hours":9.1625,"velocity":6.4},{"hours":9.2125,"velocity":6.8},{"hours":9.2625,"velocity":6.1},{"hours":9.3125,"velocity":6.7},{"hours":9.3625,"velocity":6.5},{"hours":9.4125,"velocity":7.0},{"hours":9.4625,"velocity":7.1},
{"hours":9.5125,"velocity":6.6},{"hours":9.5625,"velocity":7.4},{"hours":9.6125,"velocity":6.9},{"hours":9.6625,"velocity":7.1},{"hours":9.7125,"velocity":7.5},{"hours":9.7625,"velocity":6.8},{"hours":9.8125,"velocity":7.4},{"hours":9.8625,"velocity":7.1},{"hours":9.9125,"velocity":7.6},{"hours":9.9625,"velocity":7.7},{"hours":10.0125,"velocity":7.2},{"hours":10.0625,"velocity":8.0},{"hours":10.1125,"velocity":7.5},{"hours":10.1625,"velocity":7.7},{"hours":10.2125,"velocity":8.1},{"hours":10.2625,"velocity":7.4},{"hours":10.3125,"velocity":8.0},{"hours":10.3625,"velocity":7.6},{"hours":10.4125,"velocity":8.2},{"hours":10.4625,"velocity":8.3},
{"hours":10.5125,"velocity":7.7},{"hours":10.5625,"velocity":8.4},{"hours":10.6125,"velocity":7.9},{"hours":10.6625,"velocity":8.1},{"hours":10.7125,"velocity":8.4},{"hours":10.7625,"velocity":7.7},{"hours":10.8125,"velocity":8.2},{"hours":10.8625,"velocity":7.9},{"hours":10.9125,"velocity":8.3},{"hours":10.9625,"velocity":8.4},{"hours":11.0125,"velocity":7.7},{"hours":11.0625,"velocity":8.4},{"hours":11.1125,"velocity":7.8},{"hours":11.1625,"velocity":7.9},{"hours":11.2125,"velocity":8.1},{"hours":11.2625,"velocity":7.4},{"hours":11.3125,"velocity":7.9},{"hours":11.3625,"velocity":7.5},{"hours":11.4125,"velocity":7.9},{"hours":11.4625,"velocity":7.8},
{"hours":11.5125,"velocity":7.2},{"hours":11.5625,"velocity":7.8},{"hours":11.6125,"velocity":7.3},{"hours":11.6625,"velocity":7.4},{"hours":11.7125,"velocity":7.6},{"hours":11.7625,"velocity":6.9},{"hours":11.8125,"velocity":7.4},{"hours":11.8625,"velocity":7.0},{"hours":11.9125,"velocity":7.5},{"hours":11.9625,"velocity":7.3},{"hours":12.0125,"velocity":6.8},{"hours":12.0625,"velocity":7.4},{"hours":12.1125,"velocity":6.9},{"hours":12.1625,"velocity":7.0},{"hours":12.2125,"velocity":7.2},{"hours":12.2625,"velocity":6.5},{"hours":12.3125,"velocity":7.0},{"hours":12.3625,"velocity":6.6},{"hours":12.4125,"velocity":7.2},{"hours":12.4625,"velocity":7.0},
{"hours":12.5125,"velocity":6.5},{"hours":12.5625,"velocity":7.1},{"hours":12.6125,"velocity":6.6},{"hours":12.6625,"velocity":6.7},{"hours":12.7125,"velocity":6.9},{"hours":12.7625,"velocity":6.2},{"hours":12.8125,"velocity":6.7},{"hours":12.8625,"velocity":6.3},{"hours":12.9125,"velocity":6.8},{"hours":12.9625,"velocity":6.6},{"hours":13.0125,"velocity":6.1},{"hours":13.0625,"velocity":6.7},{"hours":13.1125,"velocity":6.3},{"hours":13.1625,"velocity":6.3},{"hours":13.2125,"velocity":6.6},{"hours":13.2625,"velocity":5.9},{"hours":13.3125,"velocity":6.4},{"hours":13.3625,"velocity":6.1},{"hours":13.4125,"velocity":6.7},{"hours":13.4625,"velocity":6.5},
{"hours":13.5125,"velocity":6.1},{"hours":13.5625,"velocity":6.8},{"hours":13.6125,"velocity":6.3},{"hours":13.6625,"velocity":6.5},{"hours":13.7125,"velocity":6.8},{"hours":13.7625,"velocity":6.1},{"hours":13.8125,"velocity":6.6},{"hours":13.8625,"velocity":6.2},{"hours":13.9125,"velocity":6.8},{"hours":13.9625,"velocity":6.6},{"hours":14.0125,"velocity":6.1},{"hours":14.0625,"velocity":6.7},{"hours":14.1125,"velocity":6.2},{"hours":14.1625,"velocity":6.3},{"hours":14.2125,"velocity":6.5},{"hours":14.2625,"velocity":5.8},{"hours":14.3125,"velocity":6.3},{"hours":14.3625,"velocity":5.9},{"hours":14.4125,"velocity":6.4},{"hours":14.4625,"velocity":6.2},
{"hours":14.5125,"velocity":5.7},{"hours":14.5625,"velocity":6.4},{"hours":14.6125,"velocity":5.9},{"hours":14.6625,"velocity":6.0},{"hours":14.7125,"velocity":6.3},{"hours":14.7625,"velocity":5.6},{"hours":14.8125,"velocity":6.1},{"hours":14.8625,"velocity":5.8},{"hours":14.9125,"velocity":6.4},{"hours":14.9625,"velocity":6.3},{"hours":15.0125,"velocity":5.8},{"hours":15.0625,"velocity":6.5},{"hours":15.1125,"velocity":6.0},{"hours":15.1625,"velocity":6.2},{"hours":15.2125,"velocity":6.5},{"hours":15.2625,"velocity":5.9},{"hours":15.3125,"velocity":6.4},{"hours":15.3625,"velocity":6.1},{"hours":15.4125,"velocity":6.7},{"hours":15.4425,"velocity":6.5},
{"hours":4.98,"velocity":9.6},{"hours":5.4,"velocity":3.5},{"hours":5.8,"velocity":2.95},{"hours":6.98,"velocity":2.9},{"hours":6.37,"velocity":7.4},{"hours":7.2,"velocity":8.3},{"hours":8.0,"velocity":9.2},{"hours":9.1,"velocity":4.2},{"hours":9.8,"velocity":10.0},{"hours":10.4,"velocity":9.6},{"hours":10.66,"velocity":11.1},{"hours":11.05,"velocity":10.6},{"hours":11.8,"velocity":11.5},{"hours":11.8,"velocity":10.5},{"hours":12.24,"velocity":4.1},{"hours":12.9,"velocity":9.4},{"hours":13.55,"velocity":9.8},{"hours":12.9,"velocity":4.7},{"hours":14.2,"velocity":9.0},{"hours":14.95,"velocity":7.9},{"hours":15.1,"velocity":4.2},{"hours":14.3,"velocity":4.2}
    ]},
    "mark": {"type": "point", "shape": "M-1,0H1M0,-1V1", "filled": false, "stroke": "black", "strokeWidth": 2.1, "size": 140, "opacity": 1},
    "encoding": {
      "x": {"field": "hours", "type": "quantitative", "scale": {"domain": [-0.125, 16.1], "nice": false, "zero": false},
            "axis": {"values": [0,2,4,6,8,10,12,14,16], "format": "d", "grid": false, "tickSize": 4, "labelFont": "DejaVu Sans", "labelFontWeight": "bold", "labelFontSize": 12, "labelPadding": 2, "title": "Hours", "titleFont": "DejaVu Sans", "titleFontSize": 15, "titleFontWeight": "normal", "titlePadding": 7}},
      "y": {"field": "velocity", "type": "quantitative", "scale": {"domain": [0, 70], "nice": false, "zero": true},
            "axis": {"values": [0,10,20,30,40,50,60,70], "format": ".1e", "grid": true, "gridDash": [3,3], "gridColor": "#555555", "gridWidth": 1, "tickSize": 5, "labelFont": "DejaVu Sans", "labelFontWeight": "bold", "labelFontSize": 12, "labelPadding": 1, "title": "Velocity, Feet/Day", "titleFont": "DejaVu Sans", "titleFontSize": 14, "titleFontWeight": "normal", "titlePadding": 8}}
    }
  },
  {
    "data": {"values": [{"label": "Velocity ~ 0.8 ft/day"}]},
    "mark": {"type": "text", "font": "Liberation Sans", "fontWeight": "bold", "fontSize": 55, "align": "center", "baseline": "alphabetic", "color": "black"},
    "encoding": {
      "x": {"datum": 6.12, "type": "quantitative"},
      "y": {"datum": 37.1, "type": "quantitative"},
      "text": {"field": "label"}
    }
  },
  {
    "data": {"values": [{"note": "stats box"}]},
    "mark": {"type": "rect", "fill": "white", "stroke": "black", "strokeWidth": 2},
    "encoding": {
      "x": {"datum": -0.02, "type": "quantitative"}, "x2": {"datum": 3.56},
      "y": {"datum": -3.97, "type": "quantitative"}, "y2": {"datum": -8.45}
    }
  },
  {
    "data": {"values": [{"label": "Mean:"}]},
    "mark": {"type": "text", "font": "DejaVu Sans", "fontWeight": "bold", "fontSize": 10.5, "align": "left", "baseline": "middle", "color": "black"},
    "encoding": {"x": {"datum": 0.1, "type": "quantitative"}, "y": {"datum": -5.4, "type": "quantitative"}, "text": {"field": "label"}}
  },
  {
    "data": {"values": [{"label": "8.85e+0 Feet/Day"}]},
    "mark": {"type": "text", "font": "DejaVu Sans", "fontWeight": "bold", "fontSize": 10.5, "align": "left", "baseline": "middle", "color": "black"},
    "encoding": {"x": {"datum": 1.17, "type": "quantitative"}, "y": {"datum": -5.4, "type": "quantitative"}, "text": {"field": "label"}}
  },
  {
    "data": {"values": [{"label": "Std Dev:"}]},
    "mark": {"type": "text", "font": "DejaVu Sans", "fontWeight": "bold", "fontSize": 10.5, "align": "left", "baseline": "middle", "color": "black"},
    "encoding": {"x": {"datum": 0.1, "type": "quantitative"}, "y": {"datum": -7.3, "type": "quantitative"}, "text": {"field": "label"}}
  },
  {
    "data": {"values": [{"label": "4.90e+0 Feet/Day"}]},
    "mark": {"type": "text", "font": "DejaVu Sans", "fontWeight": "bold", "fontSize": 10.5, "align": "left", "baseline": "middle", "color": "black"},
    "encoding": {"x": {"datum": 1.17, "type": "quantitative"}, "y": {"datum": -7.3, "type": "quantitative"}, "text": {"field": "label"}}
  }
]
}
